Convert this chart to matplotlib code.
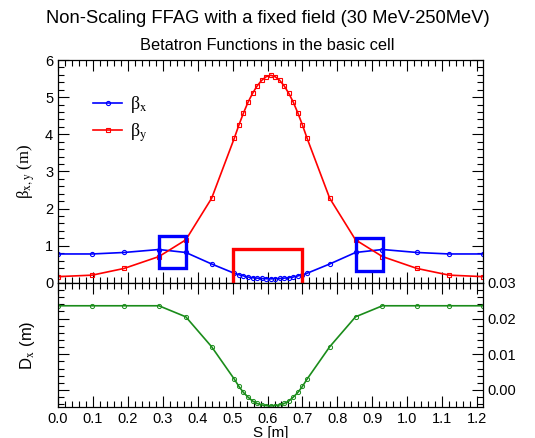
import numpy as np
import matplotlib
matplotlib.use('Agg')
from matplotlib import pyplot as plt
from matplotlib.patches import Rectangle
from matplotlib.ticker import MultipleLocator, FormatStrFormatter

plt.rcParams['font.family'] = 'Liberation Sans'
plt.rcParams['mathtext.fontset'] = 'stix'

# lattice positions along the basic cell (m)
S = [0.0, 0.098, 0.189, 0.289, 0.366, 0.440,
     0.505, 0.518, 0.531, 0.544, 0.557, 0.570, 0.583, 0.596, 0.609,
     0.622, 0.635, 0.648, 0.661, 0.674, 0.687, 0.700, 0.713,
     0.778, 0.852, 0.929, 1.028, 1.120, 1.217]

BETA_X = [0.78, 0.78, 0.82, 0.90, 0.82, 0.51,
          0.26, 0.22, 0.19, 0.16, 0.14, 0.13, 0.12, 0.115, 0.11,
          0.115, 0.12, 0.13, 0.14, 0.16, 0.19, 0.22, 0.26,
          0.51, 0.82, 0.90, 0.82, 0.78, 0.78]

BETA_Y = [0.17, 0.21, 0.39, 0.71, 1.16, 2.28,
          3.90, 4.25, 4.57, 4.86, 5.10, 5.30, 5.45, 5.55, 5.59,
          5.55, 5.45, 5.30, 5.10, 4.86, 4.57, 4.25, 3.90,
          2.28, 1.16, 0.71, 0.39, 0.21, 0.17]

DX = [0.0236, 0.0236, 0.0236, 0.0236, 0.0205, 0.0121,
      0.0030, 0.0010, -0.0007, -0.0020, -0.0031, -0.0038, -0.0042, -0.0044, -0.0045,
      -0.0044, -0.0042, -0.0038, -0.0031, -0.0020, -0.0007, 0.0010, 0.0030,
      0.0121, 0.0205, 0.0236, 0.0236, 0.0236, 0.0236]

# magnets: (s_start, s_end, low, high)
BD_MAGNETS = [(0.289, 0.366, 0.39, 1.26), (0.853, 0.930, 0.33, 1.22)]
QF_MAGNET = (0.50, 0.70, -0.05, 0.91)

S_MAX = 1.217

fig = plt.figure(figsize=(5.35, 4.38), dpi=100)
ax1 = fig.add_axes([0.1084, 0.354, 0.7944, 0.509])
ax2 = fig.add_axes([0.1084, 0.0715, 0.7944, 0.2825])

ax1.plot(S, BETA_X, color='#0000ff', lw=1.2, marker='o', ms=3,
         mfc='none', mew=0.8, label='β$_{\\mathrm{x}}$')
ax1.plot(S, BETA_Y, color='#ff0000', lw=1.2, marker='s', ms=2.5,
         mfc='none', mew=0.8, label='β$_{\\mathrm{y}}$')

for s0, s1, lo, hi in BD_MAGNETS:
    ax1.add_patch(Rectangle((s0, lo), s1 - s0, hi - lo, fill=False,
                            ec='#0000ff', lw=2.4, clip_on=False, zorder=5))
s0, s1, lo, hi = QF_MAGNET
ax1.add_patch(Rectangle((s0, lo), s1 - s0, hi - lo, fill=False,
                        ec='#ff0000', lw=2.4, clip_on=False, zorder=5))

ax1.set_xlim(0, S_MAX)
ax1.set_ylim(0, 6)
ax1.set_ylabel('β$_{\\mathrm{x,y}}$ (m)', fontsize=12, family='Liberation Serif',
               labelpad=6)
ax1.legend(loc='upper left', bbox_to_anchor=(0.045, 0.92), frameon=False,
           prop={'family': 'Liberation Serif', 'size': 13},
           handlelength=1.6, handletextpad=0.45, labelspacing=0.35)

ax2.plot(S, DX, color='#1a8c1a', lw=1.2, marker='o', ms=3,
         mfc='none', mew=0.7)
ax2.set_xlim(0, S_MAX)
ax2.set_ylim(-0.0047, 0.03)
ax2.set_ylabel(r'D$_{\mathrm{x}}$ (m)', fontsize=12, labelpad=12)
ax2.set_xlabel('S [m]', fontsize=11, labelpad=0)

for ax in (ax1, ax2):
    ax.xaxis.set_major_locator(MultipleLocator(0.1))
    ax.xaxis.set_minor_locator(MultipleLocator(0.02))
    ax.tick_params(which='both', direction='in', top=True, right=True,
                   labelsize=10.5, width=0.8)
    ax.tick_params(which='major', length=8)
    ax.tick_params(which='minor', length=4)
    for sp in ax.spines.values():
        sp.set_linewidth(0.9)

ax1.yaxis.set_major_locator(MultipleLocator(1))
ax1.yaxis.set_minor_locator(MultipleLocator(0.2))
ax1.tick_params(labelbottom=False)

ax2.yaxis.set_major_locator(MultipleLocator(0.01))
ax2.yaxis.set_minor_locator(MultipleLocator(0.002))
ax2.tick_params(labelleft=False, labelright=True)
ax2.yaxis.set_major_formatter(FormatStrFormatter('%.2f'))
ax2.set_xticks(np.arange(0, 1.21, 0.1))
ax2.xaxis.set_major_formatter(FormatStrFormatter('%.1f'))

fig.text(0.5, 0.958, 'Non-Scaling FFAG with a fixed field (30 MeV-250MeV)',
         ha='center', va='center', fontsize=13.2)
fig.text(0.5, 0.897, 'Betatron Functions in the basic cell',
         ha='center', va='center', fontsize=11.8)

fig.savefig('out.png', dpi=100)
